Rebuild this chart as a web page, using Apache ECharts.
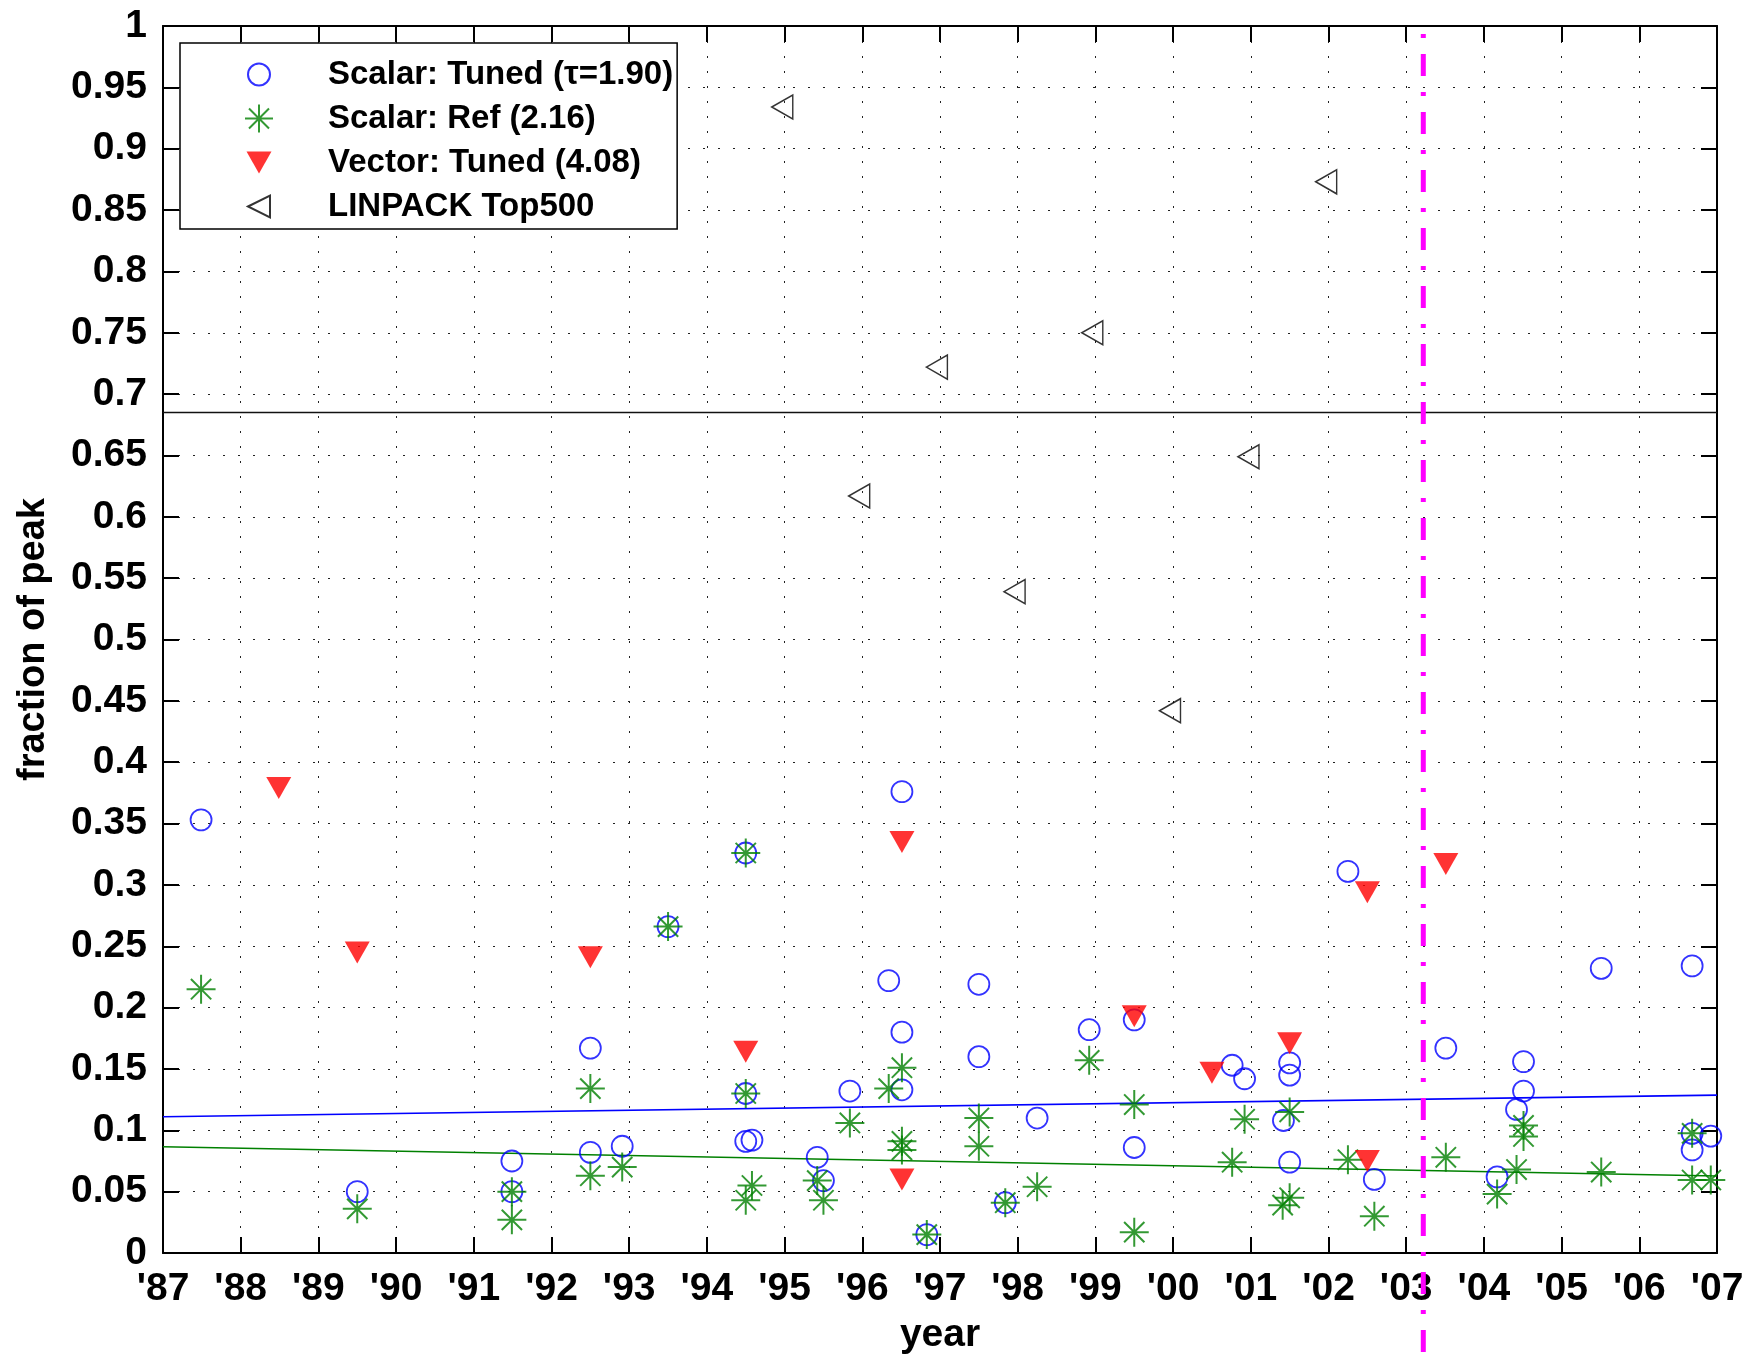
<!DOCTYPE html>
<html><head><meta charset="utf-8">
<script src="https://cdn.jsdelivr.net/npm/echarts@6/dist/echarts.min.js"></script>
<style>html,body{margin:0;padding:0;background:#fff}#c{width:1748px;height:1359px}</style>
</head><body><div id="c"></div><script>
// ---- data ----
const xTickLabels = ["'87","'88","'89","'90","'91","'92","'93","'94","'95","'96","'97","'98","'99","'00","'01","'02","'03","'04","'05","'06","'07"];
const seriesNames = ["Scalar: Tuned (\u03C4=1.90)", "Scalar: Ref (2.16)", "Vector: Tuned (4.08)", "LINPACK Top500"];

const tunedYears = [87.49,89.50,91.49,91.49,92.50,92.50,92.91,93.50,94.50,94.50,94.50,94.58,95.42,95.50,95.84,96.34,96.51,96.51,96.51,96.83,97.50,97.50,97.84,98.25,98.92,99.50,99.50,100.76,100.92,101.42,101.50,101.50,101.50,102.25,102.59,103.51,104.17,104.42,104.51,104.51,105.51,106.68,106.68,106.68,106.92];
const tunedValues = [0.353,0.050,0.075,0.050,0.167,0.082,0.087,0.266,0.326,0.130,0.091,0.092,0.078,0.059,0.132,0.222,0.376,0.180,0.133,0.015,0.219,0.160,0.041,0.110,0.182,0.190,0.086,0.153,0.142,0.108,0.155,0.145,0.074,0.311,0.060,0.167,0.062,0.117,0.156,0.132,0.232,0.234,0.0975,0.084,0.0953];

const refYears = [87.49,89.50,91.49,91.49,92.50,92.50,92.91,93.50,94.50,94.50,94.58,94.50,95.84,95.42,95.50,96.51,96.34,96.51,96.51,96.83,97.50,97.50,97.84,98.25,98.92,99.50,99.50,100.76,100.92,101.50,101.50,101.41,102.25,102.59,103.51,104.17,104.42,104.51,104.51,105.51,106.68,106.68,106.92];
const refValues = [0.215,0.036,0.050,0.027,0.134,0.063,0.070,0.266,0.326,0.130,0.055,0.043,0.106,0.059,0.043,0.151,0.134,0.091,0.084,0.015,0.110,0.087,0.041,0.054,0.157,0.121,0.017,0.074,0.109,0.115,0.045,0.039,0.076,0.030,0.078,0.048,0.068,0.104,0.095,0.066,0.0975,0.0595,0.0595];

const vectorYears = [88.49,89.50,92.50,94.50,96.51,96.51,99.50,100.50,101.50,102.50,102.50,103.51];
const vectorValues = [0.379,0.245,0.241,0.164,0.335,0.060,0.193,0.147,0.171,0.294,0.075,0.317];

const linpackYears = [94.97,95.96,96.96,97.96,98.96,99.96,100.97,101.97];
const linpackValues = [0.934,0.617,0.722,0.539,0.750,0.442,0.649,0.873];

const trendYears = [87, 107];
const tunedTrend = [0.111, 0.1287];
const refTrend = [0.0866, 0.0627];
const separatorValue = 0.685;
const markerYear = 103.22;
const markerSpan = [1, -0.09];

// ---- chart ----
const FONT = "'Liberation Sans', Arial, Helvetica, sans-serif";
const pairs = (xs, ys) => xs.map((x, i) => [x, ys[i]]);
const AST = 'path://M0,10L20,10M10,0L10,20M3,3L17,17M17,3L3,17';
const TRI_DOWN = 'path://M0,0L24,0L12,21Z';
const TRI_LEFT = 'path://M0,12L21,0L21,24Z';
// legend icons share one 28px box; moveTo corners keep the box, shapes sit inside it
const LEG_CIRCLE = 'path://M0,0M28,28M3,14A11,11,0,1,1,25,14A11,11,0,1,1,3,14Z';
const LEG_AST = 'path://M0,14L28,14M14,0L14,28M4,4L24,24M24,4L4,24';
const LEG_TRI_DOWN = 'path://M0,0M28,28M1.5,3L26.5,3L14,25Z';
const LEG_TRI_LEFT = 'path://M0,0M28,28M3,14L25,3L25,25Z';

const gridLine = {show: true, lineStyle: {color: '#222', width: 1, type: [2, 13]}};
const axLine = {show: true, onZero: false, lineStyle: {color: '#000', width: 2}};
const tick = {show: true, inside: true, length: 16, lineStyle: {color: '#000', width: 2}};

const chart = echarts.init(document.getElementById('c'), null, {renderer: 'canvas'});
chart.setOption({
  animation: false,
  backgroundColor: '#fff',
  textStyle: {fontFamily: FONT},
  grid: {left: 163, right: 31, top: 26, bottom: 106, containLabel: false, outerBoundsMode: 'none'},
  legend: {
    orient: 'vertical', left: 180, top: 43,
    data: [
      {name: seriesNames[0], icon: LEG_CIRCLE},
      {name: seriesNames[1], icon: LEG_AST},
      {name: seriesNames[2], icon: LEG_TRI_DOWN},
      {name: seriesNames[3], icon: LEG_TRI_LEFT}
    ],
    itemWidth: 128, itemHeight: 28, itemGap: 11,
    padding: [15, 4, 6, 64],
    backgroundColor: '#fff', borderColor: '#000', borderWidth: 1.5, borderRadius: 0,
    textStyle: {fontSize: 33, fontWeight: 'bold', color: '#000', fontFamily: FONT, lineHeight: 32},
    selectedMode: false
  },
  xAxis: [{
    type: 'value', min: 87, max: 107, interval: 1,
    name: 'year', nameLocation: 'middle', nameGap: 63,
    nameTextStyle: {fontSize: 39, fontWeight: 'bold', color: '#000', fontFamily: FONT},
    axisLine: axLine, axisTick: tick, splitLine: gridLine,
    axisLabel: {fontSize: 39, fontWeight: 'bold', color: '#000', fontFamily: FONT, margin: 17,
      formatter: v => xTickLabels[Math.round(v - 87)], showMinLabel: true, showMaxLabel: true, hideOverlap: false}
  }, {
    type: 'value', min: 87, max: 107, interval: 1, position: 'top',
    axisLine: axLine, axisTick: tick, splitLine: {show: false}, axisLabel: {show: false}
  }],
  yAxis: [{
    type: 'value', min: 0, max: 1, interval: 0.05,
    name: 'fraction of peak', nameLocation: 'middle', nameGap: 110, nameRotate: 90,
    nameTextStyle: {fontSize: 38, fontWeight: 'bold', color: '#000', fontFamily: FONT},
    axisLine: axLine, axisTick: tick, splitLine: gridLine,
    axisLabel: {fontSize: 39, fontWeight: 'bold', color: '#000', fontFamily: FONT, margin: 16,
      formatter: v => String(Math.round(v * 100) / 100), showMinLabel: true, showMaxLabel: true, hideOverlap: false}
  }, {
    type: 'value', min: 0, max: 1, interval: 0.05, position: 'right',
    axisLine: axLine, axisTick: tick, splitLine: {show: false}, axisLabel: {show: false}
  }],
  series: [
    {name: 'sep', type: 'line', data: pairs(trendYears, [separatorValue, separatorValue]), symbol: 'none',
      lineStyle: {color: '#111', width: 1.5}, silent: true, z: 2},
    {name: 'tunedTrend', type: 'line', data: pairs(trendYears, tunedTrend), symbol: 'none',
      lineStyle: {color: '#0000ff', width: 1.6}, silent: true, z: 2},
    {name: 'refTrend', type: 'line', data: pairs(trendYears, refTrend), symbol: 'none',
      lineStyle: {color: '#008000', width: 1.6}, silent: true, z: 2},
    {name: seriesNames[0], type: 'scatter', data: pairs(tunedYears, tunedValues),
      symbol: 'circle', symbolSize: 21,
      itemStyle: {color: 'rgba(0,0,0,0)', borderColor: '#0000ff', borderWidth: 1.8}, z: 3},
    {name: seriesNames[1], type: 'scatter', data: pairs(refYears, refValues),
      symbol: AST, symbolSize: 29,
      itemStyle: {color: 'rgba(0,0,0,0)', borderColor: '#008000', borderWidth: 2}, z: 3},
    {name: seriesNames[2], type: 'scatter', data: pairs(vectorYears, vectorValues),
      symbol: TRI_DOWN, symbolSize: [25, 22],
      itemStyle: {color: '#ff0000', borderWidth: 0}, z: 3},
    {name: seriesNames[3], type: 'scatter', data: pairs(linpackYears, linpackValues),
      symbol: TRI_LEFT, symbolSize: [21, 24],
      itemStyle: {color: 'rgba(0,0,0,0)', borderColor: '#000', borderWidth: 1.5}, z: 3},
    {name: 'marker', type: 'line', data: pairs([markerYear, markerYear], markerSpan), symbol: 'none',
      clip: false, silent: true, z: 20,
      lineStyle: {color: '#ff00ff', width: 5, type: [22, 16, 4, 16], dashOffset: 30}}
  ]
});
</script></body></html>
